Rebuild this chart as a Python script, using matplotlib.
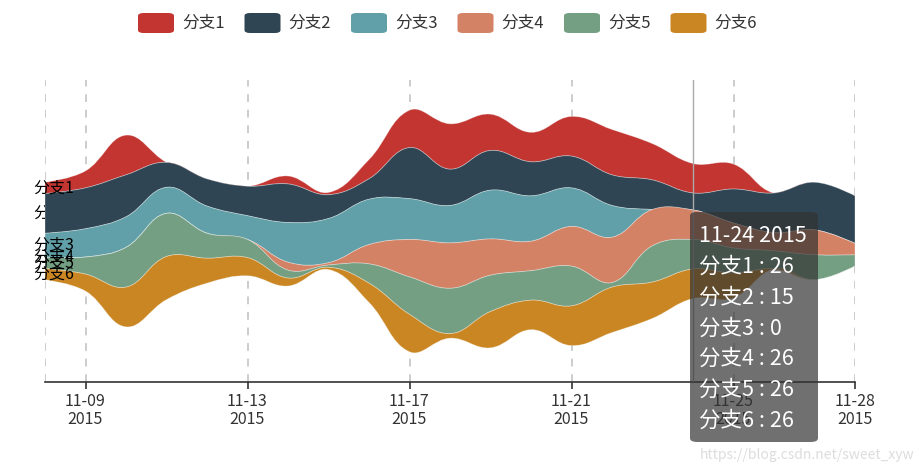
import numpy as np
import matplotlib
matplotlib.use('Agg')
import matplotlib.pyplot as plt
from matplotlib.path import Path
from matplotlib.patches import PathPatch, FancyBboxPatch

plt.rcParams['font.family'] = ['Noto Sans CJK SC', 'DejaVu Sans']

# data: one value per day, 2015-11-08 .. 2015-11-28
days = list(range(8, 29))
names = ['分支1', '分支2', '分支3', '分支4', '分支5', '分支6']
colors = ['#c23531', '#2f4554', '#61a0a8', '#d48265', '#749f83', '#ca8622']

branch1 = [10, 15, 35, 0, 0, 0, 7, 2, 17, 33, 40, 32, 26, 35, 40, 32, 26, 22, 0, 0, 0]
branch2 = [35, 36, 37, 22, 24, 26, 34, 21, 18, 45, 32, 35, 30, 28, 27, 26, 15, 30, 35, 42, 42]
branch3 = [21, 25, 27, 23, 24, 21, 35, 39, 40, 36, 33, 43, 40, 34, 28, 0, 0, 0, 0, 0, 0]
branch4 = [0, 0, 0, 0, 0, 0, 7, 2, 17, 33, 40, 32, 26, 35, 40, 32, 26, 22, 16, 22, 10]
branch5 = [10, 15, 35, 38, 22, 16, 7, 2, 17, 33, 40, 32, 26, 35, 4, 32, 26, 22, 16, 22, 10]
branch6 = [10, 15, 35, 38, 22, 16, 7, 2, 17, 33, 4, 32, 26, 35, 40, 32, 26, 22, 0, 0, 0]
series = [branch1, branch2, branch3, branch4, branch5, branch6]

tick_days = [9, 13, 17, 21, 25, 28]
split_days = [8, 9, 13, 17, 21, 25, 28]
hover_day = 24

W, H = 924, 472


def fx(px):
    return px / W


def fy(py):
    return 1 - py / H


def smooth_curve(pts, smooth=0.4):
    # bezier smoothing like the echarts polygon (curve goes through the points)
    out = []
    cp0 = pts[0]
    n = len(pts)
    for i in range(1, n):
        p, prev = pts[i], pts[i - 1]
        if i < n - 1:
            nxt = pts[i + 1]
            v = nxt - prev
            a = np.hypot(*(p - prev))
            b = np.hypot(*(nxt - p))
            r = b / (a + b) if a + b > 0 else 0.5
            cp1 = p - v * smooth * (1 - r)
            ncp0 = p + v * smooth * r
        else:
            cp1 = p
            ncp0 = p
        out += [cp0, cp1, p]
        cp0 = ncp0
    return out


fig = plt.figure(figsize=(W / 100, H / 100), dpi=100)
ax = fig.add_axes([fx(45), fy(382), fx(855) - fx(45), fy(80) - fy(382)])

vals = np.array(series, dtype=float)
sums = vals.sum(axis=0)
vmax = sums.max()
base = (vmax - sums) / 2

ax.set_xlim(days[0], days[-1])
ax.set_ylim(vmax * 1.125, -vmax * 0.125)

# dashed split lines
for d in split_days:
    ax.axvline(d, color='#cccccc', lw=1.4, ls=(0, (4, 4)), zorder=0)

x = np.array(days, dtype=float)
to_disp = ax.transData
to_data = ax.transData.inverted()
cum = base.copy()
for i, s in enumerate(vals):
    top = np.column_stack([x, cum])
    bot = np.column_stack([x, cum + s])
    top_d = to_disp.transform(top)
    bot_d = to_disp.transform(bot)[::-1]
    verts = [top_d[0]] + smooth_curve(top_d) + [bot_d[0]] + smooth_curve(bot_d) + [top_d[0]]
    codes = ([Path.MOVETO] + [Path.CURVE4] * (3 * (len(x) - 1)) + [Path.LINETO]
             + [Path.CURVE4] * (3 * (len(x) - 1)) + [Path.CLOSEPOLY])
    path = Path(to_data.transform(np.array(verts)), codes)
    ax.add_patch(PathPatch(path, facecolor=colors[i], edgecolor=(1, 1, 1, 0.35), lw=0.6, zorder=2))
    # series label at the first point (the 2nd one sits under its own band, as in the original)
    ax.annotate(names[i], xy=(x[0], cum[0] + s[0] / 2), xytext=(-12, 0), textcoords='offset pixels',
                ha='left', va='center', fontsize=11.5, color='#000000',
                zorder=1 if i == 1 else 3, annotation_clip=False)
    cum = cum + s

# axis pointer
ax.axvline(hover_day, color='#aaaaaa', lw=1, zorder=4)

for side in ['top', 'left', 'right']:
    ax.spines[side].set_visible(False)
ax.spines['bottom'].set_color('#333333')
ax.spines['bottom'].set_linewidth(1.2)
ax.set_yticks([])
ax.set_xticks(tick_days)
ax.set_xticklabels(['11-%02d\n2015' % d for d in tick_days], fontsize=11.5, color='#333333', linespacing=1.1)
ax.tick_params(axis='x', length=5, width=1.2, color='#333333', pad=3)

# legend
lx = 138
for i, nm in enumerate(names):
    fig.patches.append(FancyBboxPatch((fx(lx), fy(33)), fx(36), fy(13) - fy(33),
                                      boxstyle='round,pad=0,rounding_size=0.006',
                                      transform=fig.transFigure, facecolor=colors[i], edgecolor='none'))
    fig.text(fx(lx + 44), fy(23), nm, fontsize=12, color='#333333', va='center', ha='left')
    lx += 106.5

# tooltip
hi = days.index(hover_day)
fig.patches.append(FancyBboxPatch((fx(690), fy(442)), fx(128), fy(212) - fy(442),
                                  boxstyle='round,pad=0,rounding_size=0.008',
                                  transform=fig.transFigure, facecolor=(0.2, 0.2, 0.2, 0.7),
                                  edgecolor='none', zorder=10))
lines = ['11-%02d 2015' % hover_day] + ['%s : %d' % (nm, vals[k][hi]) for k, nm in enumerate(names)]
for k, t in enumerate(lines):
    fig.text(fx(699), fy(236 + k * 30.8), t, fontsize=15.5, color='white', va='center', ha='left', zorder=11)

fig.text(fx(914), fy(455), 'https://blog.csdn.net/sweet_xyw', fontsize=10, color='#dddddd',
         ha='right', va='center')

fig.savefig('out.png', dpi=100)
